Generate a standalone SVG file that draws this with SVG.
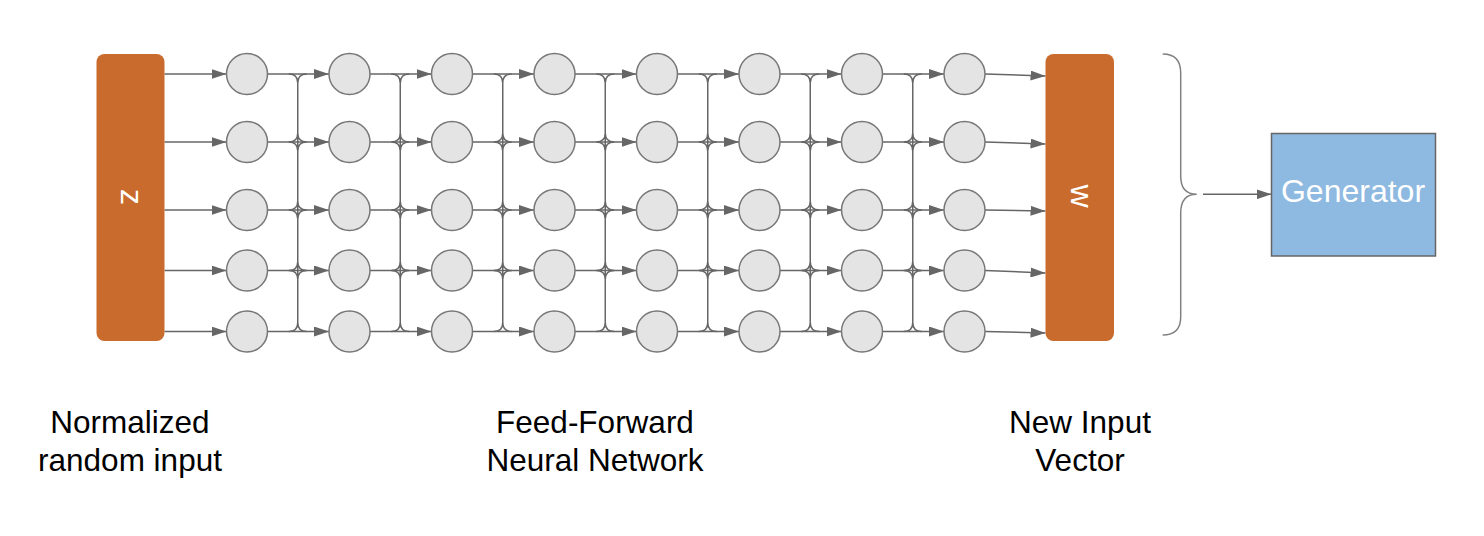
<svg xmlns="http://www.w3.org/2000/svg" xmlns:xlink="http://www.w3.org/1999/xlink" width="1484" height="536" viewBox="0 0 1484 536">
<style>
.wire{fill:none;stroke:#666;stroke-width:1.5}
.arr{fill:none;stroke:#666;stroke-width:1.5;marker-end:url(#ah)}
.neuron{fill:#e4e4e4;stroke:#777;stroke-width:1.5}
.vec{fill:#c96b2c}
.vlab{font-family:"Liberation Sans",Arial,sans-serif;font-size:32px;fill:#fff;text-anchor:middle}
.lab{font-family:"Liberation Sans",Arial,sans-serif;font-size:31.5px;fill:#000;text-anchor:middle}
.brace{fill:none;stroke:#808080;stroke-width:1.5}
</style>
<defs>
<marker id="ah" markerUnits="userSpaceOnUse" markerWidth="15" markerHeight="10" viewBox="0 0 15 10" refX="15" refY="5" orient="auto">
<path d="M0,0L15,5L0,10Z" fill="#666"/>
</marker>
<path id="bus" class="wire" d="M0,83V322.5 M-9,74Q0,74 0,83 M9,74Q0,74 0,83 M-9,142Q0,142 0,133 M9,142Q0,142 0,133 M-9,142Q0,142 0,151 M9,142Q0,142 0,151 M-9,210Q0,210 0,201 M9,210Q0,210 0,201 M-9,210Q0,210 0,219 M9,210Q0,210 0,219 M-9,270.5Q0,270.5 0,261.5 M9,270.5Q0,270.5 0,261.5 M-9,270.5Q0,270.5 0,279.5 M9,270.5Q0,270.5 0,279.5 M-9,331.5Q0,331.5 0,322.5 M9,331.5Q0,331.5 0,322.5"/>
</defs>
<rect width="1484" height="536" fill="#fff"/>
<g id="connectors">
<use xlink:href="#bus" href="#bus" x="297.75"/>
<use xlink:href="#bus" href="#bus" x="400.25"/>
<use xlink:href="#bus" href="#bus" x="502.75"/>
<use xlink:href="#bus" href="#bus" x="605.25"/>
<use xlink:href="#bus" href="#bus" x="707.75"/>
<use xlink:href="#bus" href="#bus" x="810.25"/>
<use xlink:href="#bus" href="#bus" x="912.75"/>
<line class="arr" x1="164.5" y1="74" x2="226.5" y2="74"/>
<line class="arr" x1="164.5" y1="142" x2="226.5" y2="142"/>
<line class="arr" x1="164.5" y1="210" x2="226.5" y2="210"/>
<line class="arr" x1="164.5" y1="270.5" x2="226.5" y2="270.5"/>
<line class="arr" x1="164.5" y1="331.5" x2="226.5" y2="331.5"/>
<line class="arr" x1="267.5" y1="74" x2="329" y2="74"/>
<line class="arr" x1="267.5" y1="142" x2="329" y2="142"/>
<line class="arr" x1="267.5" y1="210" x2="329" y2="210"/>
<line class="arr" x1="267.5" y1="270.5" x2="329" y2="270.5"/>
<line class="arr" x1="267.5" y1="331.5" x2="329" y2="331.5"/>
<line class="arr" x1="370" y1="74" x2="431.5" y2="74"/>
<line class="arr" x1="370" y1="142" x2="431.5" y2="142"/>
<line class="arr" x1="370" y1="210" x2="431.5" y2="210"/>
<line class="arr" x1="370" y1="270.5" x2="431.5" y2="270.5"/>
<line class="arr" x1="370" y1="331.5" x2="431.5" y2="331.5"/>
<line class="arr" x1="472.5" y1="74" x2="534" y2="74"/>
<line class="arr" x1="472.5" y1="142" x2="534" y2="142"/>
<line class="arr" x1="472.5" y1="210" x2="534" y2="210"/>
<line class="arr" x1="472.5" y1="270.5" x2="534" y2="270.5"/>
<line class="arr" x1="472.5" y1="331.5" x2="534" y2="331.5"/>
<line class="arr" x1="575" y1="74" x2="636.5" y2="74"/>
<line class="arr" x1="575" y1="142" x2="636.5" y2="142"/>
<line class="arr" x1="575" y1="210" x2="636.5" y2="210"/>
<line class="arr" x1="575" y1="270.5" x2="636.5" y2="270.5"/>
<line class="arr" x1="575" y1="331.5" x2="636.5" y2="331.5"/>
<line class="arr" x1="677.5" y1="74" x2="739" y2="74"/>
<line class="arr" x1="677.5" y1="142" x2="739" y2="142"/>
<line class="arr" x1="677.5" y1="210" x2="739" y2="210"/>
<line class="arr" x1="677.5" y1="270.5" x2="739" y2="270.5"/>
<line class="arr" x1="677.5" y1="331.5" x2="739" y2="331.5"/>
<line class="arr" x1="780" y1="74" x2="841.5" y2="74"/>
<line class="arr" x1="780" y1="142" x2="841.5" y2="142"/>
<line class="arr" x1="780" y1="210" x2="841.5" y2="210"/>
<line class="arr" x1="780" y1="270.5" x2="841.5" y2="270.5"/>
<line class="arr" x1="780" y1="331.5" x2="841.5" y2="331.5"/>
<line class="arr" x1="882.5" y1="74" x2="944" y2="74"/>
<line class="arr" x1="882.5" y1="142" x2="944" y2="142"/>
<line class="arr" x1="882.5" y1="210" x2="944" y2="210"/>
<line class="arr" x1="882.5" y1="270.5" x2="944" y2="270.5"/>
<line class="arr" x1="882.5" y1="331.5" x2="944" y2="331.5"/>
<line class="arr" x1="985" y1="74" x2="1045.5" y2="76"/>
<line class="arr" x1="985" y1="142" x2="1045.5" y2="144"/>
<line class="arr" x1="985" y1="210" x2="1045.5" y2="211"/>
<line class="arr" x1="985" y1="270.5" x2="1045.5" y2="273"/>
<line class="arr" x1="985" y1="331.5" x2="1045.5" y2="333"/>
<line class="arr" x1="1203" y1="194.3" x2="1271.5" y2="194.3"/>
</g>
<g id="z-vector">
<rect class="vec" x="96.5" y="54" width="68" height="287" rx="8"/>
<text class="vlab" transform="translate(129,197) rotate(90)" x="0" y="8.5">z</text>
</g>
<g id="w-vector">
<rect class="vec" x="1045.5" y="54" width="68.5" height="287" rx="8"/>
<text class="vlab" transform="translate(1079,196) rotate(90)" x="0" y="8.5">w</text>
</g>
<g id="layer1">
<circle class="neuron" cx="247" cy="74" r="20.5"/><circle class="neuron" cx="247" cy="142" r="20.5"/><circle class="neuron" cx="247" cy="210" r="20.5"/><circle class="neuron" cx="247" cy="270.5" r="20.5"/><circle class="neuron" cx="247" cy="331.5" r="20.5"/>
</g>
<g id="layer2">
<circle class="neuron" cx="349.5" cy="74" r="20.5"/><circle class="neuron" cx="349.5" cy="142" r="20.5"/><circle class="neuron" cx="349.5" cy="210" r="20.5"/><circle class="neuron" cx="349.5" cy="270.5" r="20.5"/><circle class="neuron" cx="349.5" cy="331.5" r="20.5"/>
</g>
<g id="layer3">
<circle class="neuron" cx="452" cy="74" r="20.5"/><circle class="neuron" cx="452" cy="142" r="20.5"/><circle class="neuron" cx="452" cy="210" r="20.5"/><circle class="neuron" cx="452" cy="270.5" r="20.5"/><circle class="neuron" cx="452" cy="331.5" r="20.5"/>
</g>
<g id="layer4">
<circle class="neuron" cx="554.5" cy="74" r="20.5"/><circle class="neuron" cx="554.5" cy="142" r="20.5"/><circle class="neuron" cx="554.5" cy="210" r="20.5"/><circle class="neuron" cx="554.5" cy="270.5" r="20.5"/><circle class="neuron" cx="554.5" cy="331.5" r="20.5"/>
</g>
<g id="layer5">
<circle class="neuron" cx="657" cy="74" r="20.5"/><circle class="neuron" cx="657" cy="142" r="20.5"/><circle class="neuron" cx="657" cy="210" r="20.5"/><circle class="neuron" cx="657" cy="270.5" r="20.5"/><circle class="neuron" cx="657" cy="331.5" r="20.5"/>
</g>
<g id="layer6">
<circle class="neuron" cx="759.5" cy="74" r="20.5"/><circle class="neuron" cx="759.5" cy="142" r="20.5"/><circle class="neuron" cx="759.5" cy="210" r="20.5"/><circle class="neuron" cx="759.5" cy="270.5" r="20.5"/><circle class="neuron" cx="759.5" cy="331.5" r="20.5"/>
</g>
<g id="layer7">
<circle class="neuron" cx="862" cy="74" r="20.5"/><circle class="neuron" cx="862" cy="142" r="20.5"/><circle class="neuron" cx="862" cy="210" r="20.5"/><circle class="neuron" cx="862" cy="270.5" r="20.5"/><circle class="neuron" cx="862" cy="331.5" r="20.5"/>
</g>
<g id="layer8">
<circle class="neuron" cx="964.5" cy="74" r="20.5"/><circle class="neuron" cx="964.5" cy="142" r="20.5"/><circle class="neuron" cx="964.5" cy="210" r="20.5"/><circle class="neuron" cx="964.5" cy="270.5" r="20.5"/><circle class="neuron" cx="964.5" cy="331.5" r="20.5"/>
</g>
<g id="brace">
<path class="brace" d="M1162.7,54Q1180.7,54 1180.7,73V176Q1180.7,194.3 1196.7,194.3Q1180.7,194.3 1180.7,213V317Q1180.7,335 1162.7,335"/>
</g>
<g id="generator">
<rect x="1271.5" y="133.5" width="164" height="122.5" fill="#8eb9e1" stroke="#666" stroke-width="1.5"/>
<text class="vlab" x="1353" y="201.5">Generator</text>
</g>
<g id="labels">
<text class="lab" x="130" y="433">Normalized</text>
<text class="lab" x="130" y="471">random input</text>
<text class="lab" x="595" y="433">Feed-Forward</text>
<text class="lab" x="595" y="471">Neural Network</text>
<text class="lab" x="1080" y="433">New Input</text>
<text class="lab" x="1080" y="471">Vector</text>
</g>
</svg>
